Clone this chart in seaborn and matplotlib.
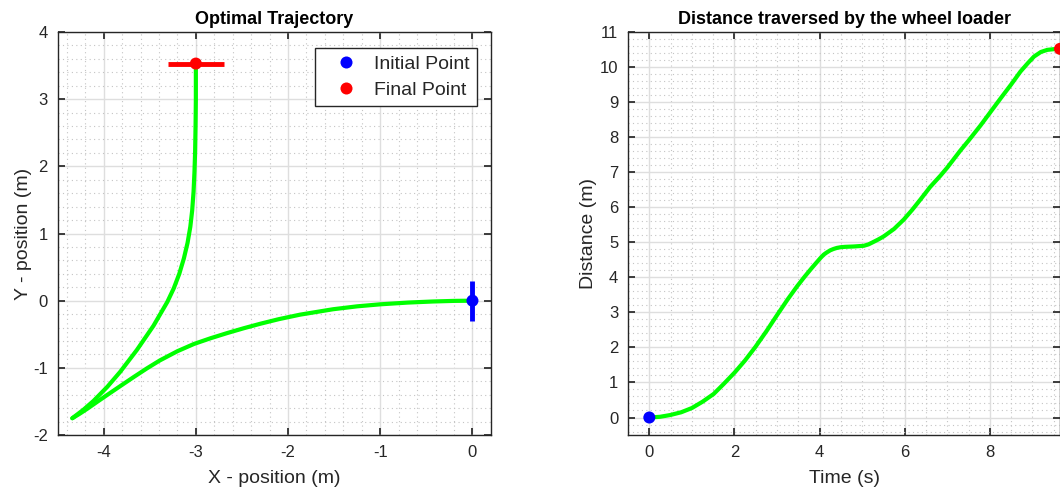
import numpy as np
import pandas as pd
import matplotlib
matplotlib.use("Agg")
import matplotlib.pyplot as plt
from matplotlib.ticker import MultipleLocator
import seaborn as sns

# Path of the wheel loader: reverse leg from the start, then forward leg to the goal
rev_x = [0.00, -0.20, -0.43, -0.70, -1.00, -1.25, -1.51, -1.87, -2.10, -2.30, -2.48, -2.66,
         -2.84, -3.02, -3.20, -3.39, -3.53, -3.67, -3.80, -3.93, -4.06, -4.18, -4.26, -4.34]
rev_y = [0.00, -0.003, -0.012, -0.028, -0.054, -0.084, -0.127, -0.208, -0.275, -0.343, -0.410, -0.482,
         -0.559, -0.644, -0.752, -0.889, -1.007, -1.133, -1.253, -1.374, -1.496, -1.611, -1.683, -1.75]
fwd_x = [-4.34, -4.22, -4.11, -3.96, -3.82, -3.64, -3.46, -3.31, -3.24, -3.18, -3.13, -3.09,
         -3.06, -3.04, -3.025, -3.015, -3.008, -3.003, -3.00, -3.00]
fwd_y = [-1.75, -1.624, -1.492, -1.282, -1.058, -0.734, -0.374, -0.02, 0.183, 0.399, 0.629, 0.861,
         1.101, 1.341, 1.62, 1.92, 2.22, 2.62, 3.00, 3.53]

# Start / goal poses and heading-bar half length
start_xy = (0.0, 0.0)
goal_xy = (-3.0, 3.53)
bar_half = 0.3

# Distance travelled over time
time_s = [0, 0.25, 0.49, 0.75, 1.0, 1.25, 1.51, 1.75, 2.01, 2.25, 2.49, 2.75, 3.0, 3.25, 3.47,
          3.65, 3.82, 4.02, 4.10, 4.17, 4.25, 4.33, 4.41, 4.50, 4.60, 4.80, 5.04, 5.15, 5.25,
          5.38, 5.51, 5.75, 5.98, 6.18, 6.37, 6.60, 6.84, 7.0, 7.31, 7.5, 7.78, 8.0, 8.25, 8.5,
          8.72, 8.9, 9.04, 9.2, 9.35, 9.5, 9.65]
dist_m = [0, 0.02, 0.07, 0.15, 0.27, 0.45, 0.67, 0.96, 1.29, 1.63, 2.01, 2.46, 2.92, 3.37, 3.74,
          4.02, 4.27, 4.55, 4.65, 4.71, 4.77, 4.81, 4.84, 4.86, 4.87, 4.88, 4.90, 4.94, 5.00,
          5.08, 5.17, 5.38, 5.65, 5.93, 6.22, 6.58, 6.90, 7.13, 7.62, 7.90, 8.33, 8.69, 9.10, 9.50,
          9.87, 10.12, 10.30, 10.43, 10.49, 10.51, 10.52]

GREEN = "#00ff00"
BLUE = "#0000ff"
RED = "#ff0000"
INK = "#262626"

sns.set_theme(style="ticks")
plt.rcParams.update({
    "font.family": ["Liberation Sans", "DejaVu Sans"],
    "axes.unicode_minus": False,
    "axes.edgecolor": INK,
    "axes.linewidth": 1.0,
    "xtick.color": INK,
    "ytick.color": INK,
    "xtick.labelcolor": INK,
    "ytick.labelcolor": INK,
    "xtick.direction": "in",
    "ytick.direction": "in",
    "xtick.top": True,
    "ytick.right": True,
    "xtick.major.size": 5,
    "ytick.major.size": 5,
    "xtick.major.pad": 7,
    "ytick.major.pad": 7,
    "xtick.labelsize": 12,
    "ytick.labelsize": 12,
})

fig = plt.figure(figsize=(10.6, 4.91), dpi=100)
ax1 = fig.add_axes([0.0543, 0.114, 0.4088, 0.8208])
ax2 = fig.add_axes([0.5925, 0.114, 0.4075, 0.8208])


def matlab_grid(ax, xminor, yminor):
    ax.xaxis.set_minor_locator(MultipleLocator(xminor))
    ax.yaxis.set_minor_locator(MultipleLocator(yminor))
    ax.tick_params(which="minor", length=0)
    ax.grid(which="major", color="#dedede", linestyle="-", linewidth=1.0)
    ax.grid(which="minor", color="#c4c4c4", linestyle=(0, (1, 3)), linewidth=0.8)
    ax.set_axisbelow(True)
    for s in ax.spines.values():
        s.set_color(INK)


line_kw = dict(sort=False, estimator=None, color=GREEN, lw=3,
               solid_joinstyle="round", solid_capstyle="round")

# ---- left: planned trajectory ----
rev = pd.DataFrame({"x": rev_x, "y": rev_y})
fwd = pd.DataFrame({"x": fwd_x, "y": fwd_y})
sns.lineplot(data=rev, x="x", y="y", ax=ax1, **line_kw)
sns.lineplot(data=fwd, x="x", y="y", ax=ax1, **line_kw)

# heading bars at start (vertical) and goal (horizontal)
ax1.plot([start_xy[0], start_xy[0]], [start_xy[1] - bar_half, start_xy[1] + bar_half],
         color=BLUE, lw=3.5, solid_capstyle="butt", zorder=4)
ax1.plot([goal_xy[0] - bar_half, goal_xy[0] + bar_half], [goal_xy[1], goal_xy[1]],
         color=RED, lw=3.5, solid_capstyle="butt", zorder=4)

pts = pd.DataFrame({"x": [start_xy[0], goal_xy[0]], "y": [start_xy[1], goal_xy[1]],
                    "kind": ["Initial Point", "Final Point"]})
sns.scatterplot(data=pts, x="x", y="y", hue="kind", palette=[BLUE, RED], s=75,
                edgecolor="none", zorder=5, ax=ax1)

ax1.set_xlim(-4.5, 0.2)
ax1.set_ylim(-2, 4)
ax1.set_xticks([-4, -3, -2, -1, 0])
ax1.set_yticks([-2, -1, 0, 1, 2, 3, 4])
matlab_grid(ax1, 0.2, 0.2)
ax1.set_title("Optimal Trajectory", fontsize=13, fontweight="bold", color="black", pad=6)
ax1.set_xlabel("X - position (m)", fontsize=14, color=INK, labelpad=7.5)
ax1.set_ylabel("Y - position (m)", fontsize=14, color=INK, labelpad=1)

leg = ax1.legend(loc="upper right", fontsize=14, frameon=True, fancybox=False,
                 borderpad=0.36, handletextpad=0.3, labelspacing=0.45,
                 handlelength=2.37, borderaxespad=0, bbox_to_anchor=(0.968, 0.960))
leg.get_frame().set_edgecolor(INK)
leg.get_frame().set_linewidth(1.0)
leg.get_frame().set_alpha(1.0)
for t in leg.get_texts():
    t.set_color(INK)

# ---- right: distance vs time ----
dist = pd.DataFrame({"t": time_s, "d": dist_m})
sns.lineplot(data=dist, x="t", y="d", ax=ax2, **line_kw)
ends = pd.DataFrame({"t": [time_s[0], time_s[-1]], "d": [dist_m[0], dist_m[-1]],
                     "kind": ["start", "end"]})
sns.scatterplot(data=ends, x="t", y="d", hue="kind", palette=[BLUE, RED], s=75,
                edgecolor="none", zorder=5, legend=False, clip_on=False, ax=ax2)

ax2.set_xlim(-0.5, time_s[-1])
ax2.set_ylim(-0.5, 11)
ax2.set_xticks([0, 2, 4, 6, 8])
ax2.set_yticks(list(range(0, 12)))
matlab_grid(ax2, 0.5, 0.2)
ax2.set_title("Distance traversed by the wheel loader", fontsize=13, fontweight="bold",
              color="black", pad=6)
ax2.set_xlabel("Time (s)", fontsize=14, color=INK, labelpad=7.5)
ax2.set_ylabel("Distance (m)", fontsize=14, color=INK, labelpad=2)

fig.savefig("out.png", dpi=100)
